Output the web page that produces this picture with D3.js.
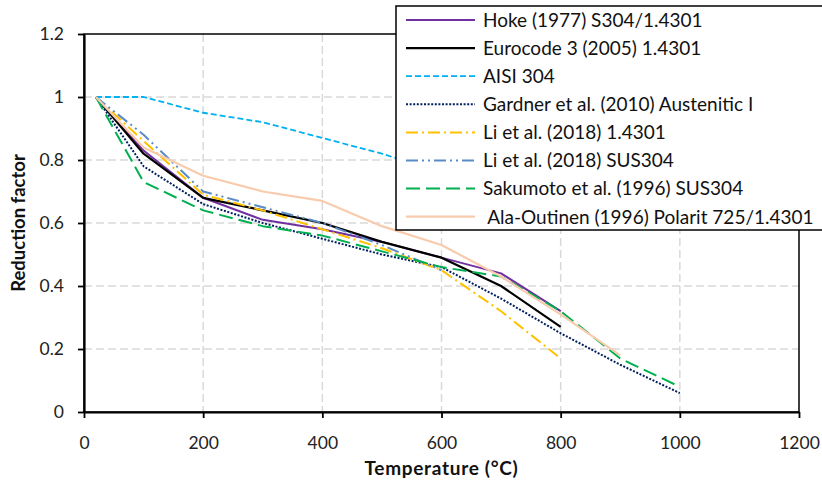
<!DOCTYPE html>
<html>
<head>
<meta charset="utf-8">
<script src="https://cdn.jsdelivr.net/npm/d3@7"></script>
<style>
  html, body { margin: 0; padding: 0; background: #fff; }
  svg { display: block; font-family: Lato, "Open Sans", sans-serif; }
  .legend text { white-space: pre; }
</style>
</head>
<body>
<svg id="chart" width="822" height="484"></svg>
<script>
// Temperature (°C) and reduction factor for each source
const hokeT = [20, 100, 200, 300, 400, 500, 600, 700, 800];
const hokeK = [1, 0.83, 0.68, 0.61, 0.58, 0.54, 0.49, 0.44, 0.32];

const eurocodeT = [20, 100, 200, 300, 400, 500, 600, 700, 800];
const eurocodeK = [1, 0.82, 0.68, 0.64, 0.60, 0.54, 0.49, 0.40, 0.27];

const aisiT = [20, 100, 200, 300, 400, 500, 600, 700];
const aisiK = [1, 1, 0.95, 0.92, 0.87, 0.82, 0.76, 0.68];

const gardnerT = [20, 100, 200, 300, 400, 500, 600, 700, 800, 900, 1000];
const gardnerK = [1, 0.78, 0.66, 0.60, 0.55, 0.50, 0.46, 0.36, 0.25, 0.15, 0.06];

const li14301T = [20, 100, 200, 300, 400, 500, 600, 700, 800];
const li14301K = [1, 0.86, 0.69, 0.64, 0.58, 0.52, 0.45, 0.32, 0.17];

const liSus304T = [20, 100, 200, 300, 400, 500, 600];
const liSus304K = [1, 0.88, 0.70, 0.65, 0.60, 0.53, 0.45];

const sakumotoT = [20, 100, 200, 300, 400, 500, 600, 700, 800, 900, 1000];
const sakumotoK = [1, 0.73, 0.64, 0.59, 0.56, 0.51, 0.46, 0.43, 0.32, 0.17, 0.08];

const alaOutinenT = [20, 100, 200, 300, 400, 500, 600, 700, 800, 900];
const alaOutinenK = [1, 0.84, 0.75, 0.70, 0.67, 0.59, 0.53, 0.43, 0.31, 0.18];

const seriesNames = [
  "Hoke (1977) S304/1.4301",
  "Eurocode 3 (2005) 1.4301",
  "AISI 304",
  "Gardner et al. (2010) Austenitic I",
  "Li et al. (2018) 1.4301",
  "Li et al. (2018) SUS304",
  "Sakumoto et al. (1996) SUS304",
  " Ala-Outinen (1996) Polarit 725/1.4301"
];

const xTicks = [0, 200, 400, 600, 800, 1000, 1200];
const xTickLabels = ["0", "200", "400", "600", "800", "1000", "1200"];
const yTicks = [0, 0.2, 0.4, 0.6, 0.8, 1, 1.2];
const yTickLabels = ["0", "0.2", "0.4", "0.6", "0.8", "1", "1.2"];

// Line appearance per series
const styles = [
  { color: "#7030A0", width: 2,   dash: null },
  { color: "#000000", width: 2.2, dash: null },
  { color: "#00B0F0", width: 1.8, dash: "6,3" },
  { color: "#002060", width: 2,   dash: "2,1.6" },
  { color: "#FFC000", width: 2,   dash: "12,4,2,4" },
  { color: "#5B8BC6", width: 2,   dash: "12,4,2,4,2,4" },
  { color: "#00B050", width: 2,   dash: "14,6" },
  { color: "#F8CBAD", width: 2.2, dash: null }
];

const seriesData = [
  [hokeT, hokeK], [eurocodeT, eurocodeK], [aisiT, aisiK], [gardnerT, gardnerK],
  [li14301T, li14301K], [liSus304T, liSus304K], [sakumotoT, sakumotoK], [alaOutinenT, alaOutinenK]
].map(([t, k], i) => ({
  name: seriesNames[i],
  style: styles[i],
  points: t.map((d, j) => ({ t: d, k: k[j] }))
}));

const svg = d3.select("#chart");
const plotL = 84, plotR = 799, plotT = 34, plotB = 412;

const x = d3.scaleLinear().domain([0, 1200]).range([plotL, plotR]);
const y = d3.scaleLinear().domain([0, 1.2]).range([plotB, plotT]);

svg.append("rect").attr("width", 822).attr("height", 484).attr("fill", "#fff");

// Dashed gridlines
const grid = svg.append("g").attr("stroke", "#D9D9D9").attr("stroke-width", 1.5)
  .attr("stroke-dasharray", "8,4");
grid.selectAll(".gy").data(yTicks.filter(v => v > 0 && v < 1.2)).join("line")
  .attr("x1", plotL).attr("x2", plotR)
  .attr("y1", d => y(d)).attr("y2", d => y(d));
grid.selectAll(".gx").data(xTicks.filter(v => v > 0 && v < 1200)).join("line")
  .attr("y1", plotT).attr("y2", plotB)
  .attr("x1", d => x(d)).attr("x2", d => x(d));

// Series lines
const line = d3.line().x(d => x(d.t)).y(d => y(d.k));
svg.append("g").selectAll("path").data(seriesData).join("path")
  .attr("d", d => line(d.points))
  .attr("fill", "none")
  .attr("stroke", d => d.style.color)
  .attr("stroke-width", d => d.style.width)
  .attr("stroke-dasharray", d => d.style.dash)
  .attr("stroke-linejoin", "round");

// Plot frame
svg.append("rect").attr("x", plotL).attr("y", plotT)
  .attr("width", plotR - plotL).attr("height", plotB - plotT)
  .attr("fill", "none").attr("stroke", "#000").attr("stroke-width", 1.5);

// Axes
const xAxis = d3.axisBottom(x).tickValues(xTicks)
  .tickFormat((d, i) => xTickLabels[i]).tickSize(6).tickSizeOuter(0).tickPadding(19);
const yAxis = d3.axisLeft(y).tickValues(yTicks)
  .tickFormat((d, i) => yTickLabels[i]).tickSize(6).tickSizeOuter(0).tickPadding(14);

const gx = svg.append("g").attr("transform", `translate(0,${plotB})`).call(xAxis);
const gy = svg.append("g").attr("transform", `translate(${plotL},0)`).call(yAxis);
[gx, gy].forEach(g => {
  g.select(".domain").attr("stroke", "#000").attr("stroke-width", 2.2);
  g.selectAll(".tick line").attr("stroke", "#000").attr("stroke-width", 1.8);
  g.selectAll(".tick text").attr("font-family", "Lato, sans-serif")
    .attr("font-size", 17.5).attr("fill", "#222");
});

// Axis titles
svg.append("text").attr("x", (plotL + plotR) / 2).attr("y", 475)
  .attr("text-anchor", "middle").attr("font-weight", "bold").attr("font-size", 19)
  .attr("letter-spacing", 0.7)
  .attr("fill", "#111").text("Temperature (°C)");
svg.append("text").attr("transform", `translate(25,${(plotT + plotB) / 2}) rotate(-90)`)
  .attr("text-anchor", "middle").attr("font-weight", "bold").attr("font-size", 18.5)
  .attr("fill", "#111").text("Reduction factor");

// Legend
const legend = svg.append("g").attr("class", "legend");
legend.append("rect").attr("x", 396).attr("y", 6).attr("width", 440).attr("height", 224)
  .attr("fill", "#fff").attr("stroke", "#000").attr("stroke-width", 1.5);
const rows = legend.selectAll("g.row").data(seriesData).join("g")
  .attr("class", "row")
  .attr("transform", (d, i) => `translate(0,${20 + i * 28.1})`);
rows.append("line").attr("x1", 406).attr("x2", 475).attr("y1", 0).attr("y2", 0)
  .attr("stroke", d => d.style.color)
  .attr("stroke-width", d => d.style.width)
  .attr("stroke-dasharray", d => d.style.dash);
rows.append("text").attr("x", 483).attr("y", 0).attr("dy", "0.36em")
  .attr("font-size", 19).attr("fill", "#111")
  .text(d => d.name);
</script>
</body>
</html>
